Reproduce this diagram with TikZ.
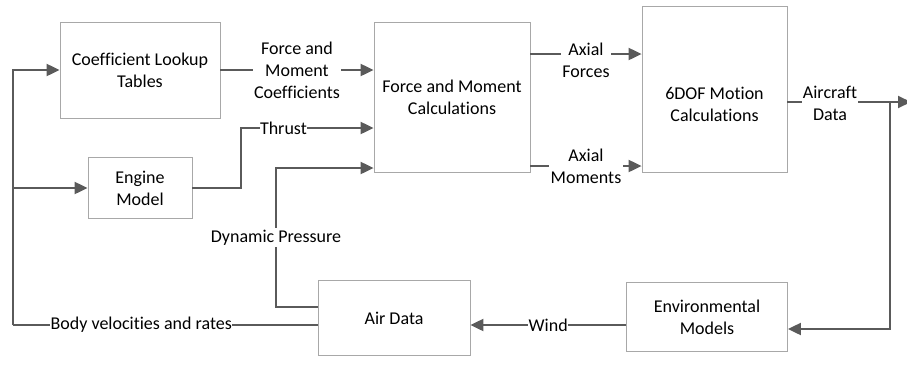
\documentclass[tikz,border=0pt]{standalone}
\usepackage{fontspec}
\setmainfont[Ligatures={NoCommon}]{Carlito}
\usetikzlibrary{arrows.meta}
\definecolor{wire}{HTML}{5A5A5A}
\definecolor{edge}{HTML}{A8A8A8}
\begin{document}
\begin{tikzpicture}[x=1pt,y=-1pt,
  every node/.style={font=\fontsize{18}{22}\selectfont, text=black, align=center},
  block/.style={draw=edge, line width=0.8pt, fill=white, inner sep=2pt},
  conn/.style={draw=wire, line width=2pt},
  arr/.style={conn, -{Triangle[length=13pt,width=12pt]}},
  lab/.style={fill=white, inner sep=1.5pt}]
\useasboundingbox (0,0) rectangle (907,381);

% blocks
\node[block, minimum width=160pt, minimum height=96pt] (coef) at (140,70) {Coefficient Lookup\\Tables};
\node[block, minimum width=104pt, minimum height=61pt] (eng) at (140,188) {Engine\\Model};
\node[block, minimum width=156pt, minimum height=150pt] (fmc) at (452,97) {Force and Moment\\Calculations};
\node[block, minimum width=145pt, minimum height=166pt] (dof) at (714.5,89) {};
\node (doft) at (714.5,104) {6DOF Motion\\Calculations};
\node[block, minimum width=152pt, minimum height=75pt] (air) at (394,318) {Air Data};
\node[block, minimum width=161pt, minimum height=69pt] (env) at (707,317) {Environmental\\Models};

% feedback bus on the left
\coordinate (busb) at (13,325);
\draw[conn] (air.west |- busb) -- node[lab, pos=0.579, inner sep=0.5pt] {Body velocities and rates} (busb);
\draw[arr] (busb) |- (coef.west);
\draw[arr] (busb) |- (eng.west);

% inputs of the force and moment block
\draw[arr] (coef.east) -- node[lab] {Force and\\Moment\\Coefficients} (coef.east -| fmc.west);
\coordinate (thr) at (241,128);
\draw[arr] (eng.east) -| (thr) -- node[lab, pos=0.32, inner sep=0.5pt] {Thrust} (thr -| fmc.west);
\coordinate (dpa) at (276,307);
\coordinate (dpb) at (276,168);
\draw[arr] (air.west |- dpa) -- (dpa) -- node[lab] {Dynamic Pressure} (dpb) -- (dpb -| fmc.west);

% forces and moments into the motion block
\draw[arr] (fmc.east |- 0,54) -- (dof.west |- 0,54);
\node[lab] (af) at (586,60) {Axial\\Forces};
\draw[arr] (fmc.east |- 0,166) -- node[lab] {Axial\\Moments} (dof.west |- 0,166);

% aircraft data out and back to the environment models
\coordinate (out) at (911,102);
\coordinate (rb) at (890,102);
\coordinate (rc) at (890,329);
\draw[arr] (dof.east |- out) -- (out);
\node[lab, inner sep=0.5pt] (ad) at (830,103) {Aircraft\\Data};
\draw[arr] (rb) -- (rc) -- (env.east |- rc);

% wind
\draw[arr] (env.west |- busb) -- node[lab, inner sep=0.5pt] {Wind} (air.east |- busb);
\end{tikzpicture}
\end{document}
